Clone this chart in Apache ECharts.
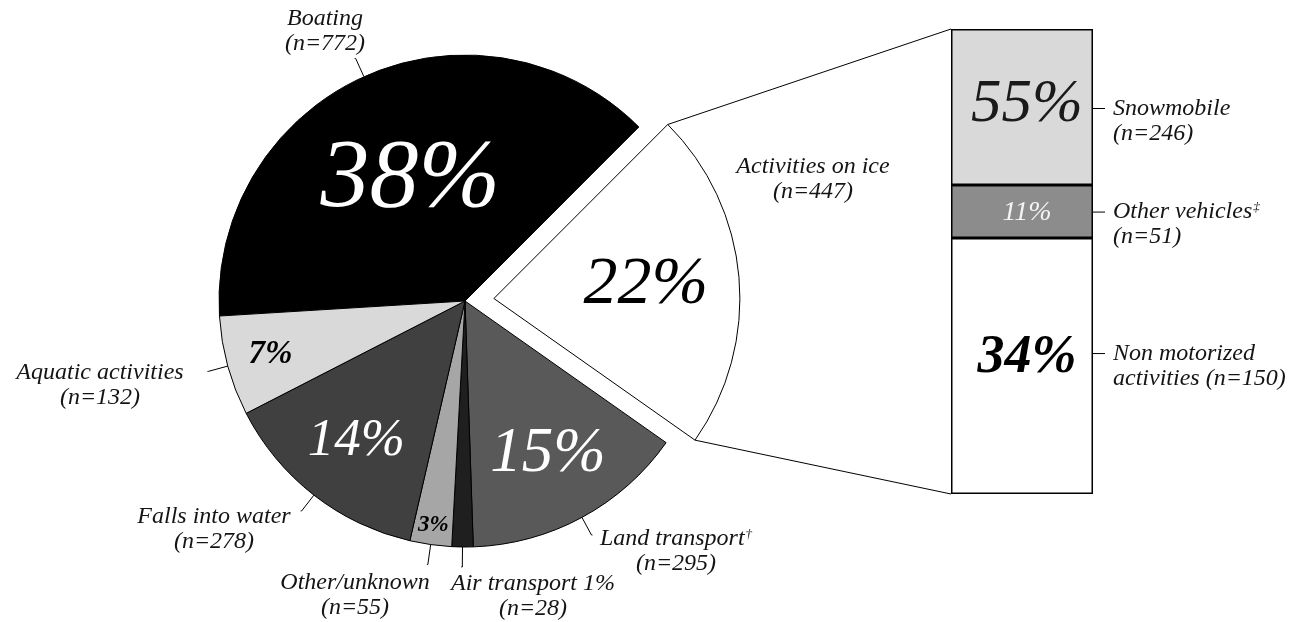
<!DOCTYPE html>
<html>
<head>
<meta charset="utf-8">
<script src="https://cdn.jsdelivr.net/npm/echarts@6/dist/echarts.min.js"></script>
<style>
  html, body { margin: 0; padding: 0; background: #fff; }
  #chart { width: 1302px; height: 622px; }
</style>
</head>
<body>
<div id="chart"></div>
<script>
// pie: causes, clockwise from the boating slice
const causes = ['Boating', 'Activities on ice', 'Land transport', 'Air transport', 'Other/unknown', 'Falls into water', 'Aquatic activities']
const causeCounts = [772, 447, 295, 28, 55, 278, 132]
const causePct = ['38%', '22%', '15%', '', '3%', '14%', '7%']
const causeLines = [
  ['Boating', '(n=772)'],
  ['Activities on ice', '(n=447)'],
  ['Land transport', '(n=295)'],
  ['Air transport 1%', '(n=28)'],
  ['Other/unknown', '(n=55)'],
  ['Falls into water', '(n=278)'],
  ['Aquatic activities', '(n=132)']
]
const causeMarks = ['', '', '†', '', '', '', '']
const pulledOut = 1  // the ice slice is pulled out and broken down in the bar

// breakdown of the ice slice, blocks stacked from the bottom up as drawn
const iceCounts = [246, 51, 150]
const iceBlockPct = ['34%', '11%', '55%']
const iceBlockLines = [
  ['Non motorized', 'activities (n=150)'],
  ['Other vehicles', '(n=51)'],
  ['Snowmobile', '(n=246)']
]
const iceBlockMarks = ['', '‡', '']

const serif = "'Liberation Serif', 'DejaVu Serif', serif"
const ink = '#141414'
const clear = 'rgba(0,0,0,0)'
const sliceColors = ['#000000', '#ffffff', '#595959', '#1f1f1f', '#a6a6a6', '#404040', '#d9d9d9']
const pctStyle = [
  {fontSize: 98, color: '#fff'},
  {fontSize: 68, color: '#000'},
  {fontSize: 63, color: '#fff'},
  {fontSize: 10, color: '#000'},
  {fontSize: 23, color: '#000', fontWeight: 'bold'},
  {fontSize: 53, color: '#fff'},
  {fontSize: 33, color: '#000', fontWeight: 'bold'}
]
const pctRadius = [0.54, 0.62, 0.71, 0, 0.92, 0.72, 0.82]
const nameCenters = [[325, 31], [813, 179], [676, 551], [533, 596], [355, 595], [214, 529], [100, 385]]
const blockColors = ['#ffffff', '#8c8c8c', '#d9d9d9']
const blockPctStyle = [
  {fontSize: 54, color: '#000', fontWeight: 'bold', offset: [5, -8]},
  {fontSize: 28, color: '#f4f4f4', offset: [5, 1]},
  {fontSize: 61, color: '#1a1a1a', offset: [5, -2]}
]
const blockNameShift = [0, 13, 14]

const pieCenter = [465, 301]
const pieRadius = 246
const pieStart = 183.5
const explode = 29

const chart = echarts.init(document.getElementById('chart'))

const textRich = {
  t: {fontFamily: serif, fontStyle: 'italic', fontSize: 24, lineHeight: 25, color: ink},
  sup: {fontFamily: serif, fontStyle: 'italic', fontSize: 13, lineHeight: 25, color: ink, verticalAlign: 'top', padding: [2, 0, 0, 1]},
  tick: {width: 12, height: 1, backgroundColor: '#000'},
  gap: {width: 8},
  ind: {width: 20}
}

const sliceLayout = (si, idx) => chart.getModel().getSeriesByIndex(si).getData().getItemLayout(idx)

// centre of the pulled-out slice, moved along its middle angle
const causeTotal = causeCounts.reduce((a, b) => a + b, 0)
const before = causeCounts.slice(0, pulledOut).reduce((a, b) => a + b, 0)
const pullDeg = pieStart - 360 * (before + causeCounts[pulledOut] / 2) / causeTotal
const pullCenter = [
  pieCenter[0] + explode * Math.cos(pullDeg * Math.PI / 180),
  pieCenter[1] - explode * Math.sin(pullDeg * Math.PI / 180)
]

const iceTotal = iceCounts.reduce((a, b) => a + b, 0)

const pieBase = {
  type: 'pie',
  radius: pieRadius,
  startAngle: pieStart,
  clockwise: true,
  avoidLabelOverlap: false,
  animation: false,
  emphasis: {disabled: true}
}

const pctLabelLayout = (si) => (p) => {
  const lay = sliceLayout(si, p.dataIndex)
  if (!lay || !causePct[p.dataIndex]) return {}
  const mid = (lay.startAngle + lay.endAngle) / 2
  const rr = lay.r * pctRadius[p.dataIndex]
  return {
    x: lay.cx + rr * Math.cos(mid),
    y: lay.cy + rr * Math.sin(mid),
    align: 'center',
    verticalAlign: 'middle'
  }
}

// one pie for the slices in place, one for the pulled-out slice
const slicePie = (si, center, keep) => Object.assign({}, pieBase, {
  center,
  silent: true,
  label: {
    show: true,
    position: 'inside',
    fontFamily: serif,
    fontStyle: 'italic',
    formatter: (p) => causePct[p.dataIndex]
  },
  labelLine: {show: false},
  labelLayout: pctLabelLayout(si),
  data: causes.map((name, i) => ({
    name,
    value: causeCounts[i],
    itemStyle: keep(i)
      ? {color: sliceColors[i], borderColor: '#000', borderWidth: 1}
      : {color: clear, borderWidth: 0},
    label: Object.assign({show: keep(i) && !!causePct[i]}, pctStyle[i])
  }))
})

const series = [
  slicePie(0, pieCenter, (i) => i !== pulledOut),
  slicePie(1, pullCenter, (i) => i === pulledOut),
  Object.assign({}, pieBase, {
    center: pieCenter,
    silent: true,
    z: 3,
    itemStyle: {color: clear, borderWidth: 0},
    label: {
      show: true,
      position: 'outside',
      color: ink,
      align: 'center',
      formatter: (p) => {
        const l = causeLines[p.dataIndex]
        const m = causeMarks[p.dataIndex] ? `{sup|${causeMarks[p.dataIndex]}}` : ''
        return `{t|${l[0]}}${m}\n{t|${l[1]}}`
      },
      rich: textRich
    },
    labelLine: {show: true, length: 20, length2: 1, smooth: false, lineStyle: {color: '#000', width: 1}},
    labelLayout: (p) => {
      const c = nameCenters[p.dataIndex]
      const out = {x: c[0], y: c[1], align: 'center', verticalAlign: 'middle'}
      if (p.labelLinePoints) out.labelLinePoints = p.labelLinePoints
      return out
    },
    data: causes.map((name, i) => ({
      name,
      value: causeCounts[i],
      labelLine: {show: i !== pulledOut}
    }))
  })
]

iceCounts.forEach((v, k) => {
  series.push({
    type: 'bar',
    stack: 'ice',
    barWidth: '100%',
    barGap: '-100%',
    animation: false,
    silent: true,
    data: [v],
    itemStyle: {color: blockColors[k], borderColor: '#000', borderWidth: 1.5},
    label: {
      show: true,
      position: 'inside',
      offset: blockPctStyle[k].offset,
      fontFamily: serif,
      fontStyle: 'italic',
      fontSize: blockPctStyle[k].fontSize,
      fontWeight: blockPctStyle[k].fontWeight || 'normal',
      color: blockPctStyle[k].color,
      formatter: iceBlockPct[k]
    }
  })
})
iceCounts.forEach((v, k) => {
  const l = iceBlockLines[k]
  const m = iceBlockMarks[k] ? `{sup|${iceBlockMarks[k]}}` : ''
  series.push({
    type: 'bar',
    stack: 'names',
    barWidth: '100%',
    barGap: '-100%',
    animation: false,
    silent: true,
    z: 1,
    data: [v],
    itemStyle: {color: clear, borderWidth: 0},
    label: {
      show: true,
      position: 'right',
      distance: 0,
      offset: [0, blockNameShift[k]],
      align: 'left',
      formatter: `{tick|}{gap|}{t|${l[0]}}${m}\n{ind|}{t|${l[1]}}`,
      rich: textRich
    }
  })
})

chart.setOption({
  backgroundColor: '#fff',
  animation: false,
  grid: {left: 951, top: 29, width: 142, height: 465},
  xAxis: {type: 'category', data: ['ice'], show: false},
  yAxis: {type: 'value', min: 0, max: iceTotal, show: false},
  series
})

// connector lines from the pulled-out slice to the bar
const ice = sliceLayout(1, pulledOut)
const barRect = chart.getModel().getComponent('grid').coordinateSystem.getRect()
const barTop = chart.convertToPixel({gridIndex: 0}, [0, iceTotal])[1]
const barBottom = chart.convertToPixel({gridIndex: 0}, [0, 0])[1]
const link = (a, y) => ({
  type: 'line',
  silent: true,
  z: 10,
  shape: {x1: ice.cx + ice.r * Math.cos(a), y1: ice.cy + ice.r * Math.sin(a), x2: barRect.x, y2: y},
  style: {stroke: '#000', lineWidth: 1}
})
chart.setOption({graphic: [link(ice.startAngle, barTop), link(ice.endAngle, barBottom)]})
</script>
</body>
</html>
